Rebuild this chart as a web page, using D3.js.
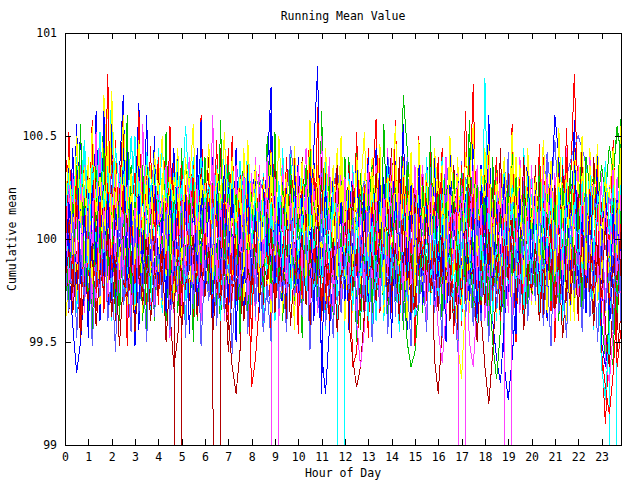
<!DOCTYPE html>
<html>
<head>
<meta charset="utf-8">
<script src="https://cdn.jsdelivr.net/npm/d3@7"></script>
<style>
  body { margin: 0; background: #fff; }
  svg { display: block; }
  text { font-family: "DejaVu Sans Mono", "Liberation Mono", monospace; font-size: 11.5px; fill: #000; }
</style>
</head>
<body>
<div id="chart"></div>
<script>
// one reading every 10 minutes, 144 per day
const stepHours = 1 / 6;
const baseMean = 100;
// cumulative mean per day, in hundredths above baseMean
const day01 = [18,-12,30,8,-22,42,-8,25,-35,15,50,-15,38,-28,12,55,-20,22,-38,8,32,-12,45,-22,
  15,-30,28,-8,40,-18,10,-42,22,36,-15,12,-28,30,-10,48,-20,18,-32,8,26,-40,15,-6,
  -45,22,-15,32,-28,12,44,-18,8,-30,38,-12,20,-35,15,52,-10,30,-22,8,-40,18,35,-15,
  26,-8,-32,44,-18,12,-28,22,58,-12,15,-38,8,30,-20,40,-6,18,-30,50,-15,10,-25,32,
  -12,44,-32,15,-8,26,-42,18,36,-22,12,-15,30,-36,10,20,-28,40,-10,15,-50,22,-12,32,
  8,-28,46,-15,24,-35,12,-18,38,-10,26,80,15,36,-20,8,-32,44,-55,-90,-45,18,-12,30];
const day02 = [-8,15,-28,32,-12,22,-38,45,-18,8,62,30,-15,26,-32,12,-22,36,-8,18,-30,40,-12,22,
  -18,30,-40,8,26,-15,44,-22,12,-32,18,36,-10,26,-20,15,-44,32,-12,22,-28,8,40,-18,
  30,-12,18,-36,50,-8,26,-22,12,-32,38,-15,22,-28,8,44,-18,30,-10,18,-35,26,-12,15,
  -30,40,-20,10,-44,22,32,-15,26,-8,18,-38,12,30,-22,70,44,15,-26,36,-12,20,-32,10,
  26,-18,36,-30,15,-10,32,-22,44,-15,18,-36,12,26,-20,38,-12,15,-30,22,-44,32,-8,18,
  -22,30,-12,40,-26,15,-32,22,8,-18,36,-30,12,44,-15,26,-38,18,-10,32,-50,-62,15,58];
const day03 = [30,-15,-42,-65,-50,-22,15,-30,36,-12,22,-40,58,-18,26,-8,44,-30,12,66,-22,32,-15,50,
  -26,18,-36,12,44,-20,30,-12,22,-44,32,-18,15,-30,40,-10,20,-35,26,-15,44,-22,8,-32,
  18,36,-26,12,-15,50,-30,22,-8,40,-18,30,-36,15,26,-12,44,84,-75,22,-30,15,-18,36,
  -22,12,32,-40,18,-10,26,-30,44,-15,20,-32,12,38,-22,18,-44,30,-12,22,-26,40,-8,15,
  -32,26,-18,44,-12,30,-36,18,-22,52,-15,12,-30,32,-10,20,-40,26,-15,36,-22,15,-8,44,
  -26,18,-36,30,-12,22,-44,32,-18,12,-30,40,-10,20,-32,26,-15,44,-22,15,-36,30,-12,22];
const day04 = [-15,22,-30,12,36,-22,15,-40,26,-8,18,-32,44,-12,22,-26,8,32,-18,40,-10,15,-36,22,
  -12,30,-18,44,-26,8,-32,18,36,-15,26,-40,12,22,-8,32,-22,15,-44,26,-12,36,-18,8,
  -30,40,-15,22,-10,18,-900,18,-22,32,-12,26,-36,15,44,-18,8,-26,38,-12,20,-32,30,-8,
  22,-40,15,-18,32,-26,12,36,-15,22,-30,44,-10,18,-36,26,-12,15,-32,40,-22,8,-18,30,
  -26,15,-44,22,-12,32,-18,8,-50,-62,-30,18,-22,36,-12,26,-32,15,-8,40,-18,22,-36,12,
  30,-15,22,-40,18,-8,32,-26,12,44,-18,22,-30,8,-36,26,-15,32,-12,-58,-44,18,-22,15];
const day05 = [8,-18,26,-36,15,44,-12,22,-30,32,-8,18,-40,26,-15,36,-22,12,50,-18,30,-10,20,-32,
  44,-26,15,-8,32,-18,22,-40,12,30,-15,36,-26,18,-10,26,-36,15,-22,40,-12,22,-30,8,
  32,-15,18,-44,26,-8,36,-22,12,-30,44,-18,15,-36,22,-12,32,-26,8,40,-15,22,-30,-900,
  18,-22,36,-12,26,-32,15,-44,30,-8,22,-18,40,-26,12,32,-15,22,-36,18,-10,30,-22,44,
  -12,18,-32,26,-15,36,-8,22,12,-18,15,-30,78,-12,26,-40,18,-8,36,-22,12,-32,44,-15,
  22,-26,15,-36,32,-12,22,-18,40,-30,8,26,-15,36,-22,18,-44,30,-12,22,-18,-900,15,32];
const day06 = [-22,32,-12,22,-44,15,26,-18,36,-30,12,-8,44,-22,18,-32,26,-12,15,-40,32,-18,22,-8,
  30,-26,12,-36,18,-900,22,-15,32,-12,26,-30,15,40,-22,-900,18,-32,26,-12,36,-18,8,-44,
  22,-15,32,-26,12,44,-18,22,-36,15,-8,30,-22,40,-12,18,-32,26,-15,36,-44,22,-12,30,
  -18,36,-26,15,-8,32,-40,22,-15,26,-30,12,44,-22,18,-36,30,-12,22,-32,15,-18,40,-58,
  -75,-44,18,-26,36,-12,22,-30,15,-40,26,-8,32,-22,12,-18,44,-30,18,-12,26,-36,15,-22,
  32,-15,22,-40,12,30,-22,36,-12,18,-32,26,-8,44,-18,15,-30,22,-12,36,-26,18,-44,8];
const day07 = [-36,12,22,-18,30,-8,40,-26,15,-32,70,22,-12,36,-22,15,-30,26,-10,18,-40,32,-15,22,
  -26,12,-8,36,-18,26,-44,15,-12,30,-22,40,8,-30,18,-36,22,-15,32,-26,12,-18,44,-8,
  26,-32,15,-22,36,-12,18,-30,40,-15,22,-44,30,-8,18,-26,36,-18,12,-32,26,-15,44,-22,
  15,-36,22,-12,32,-26,8,40,-18,22,-30,15,-10,36,-22,26,-40,18,-15,30,-8,22,-32,12,
  36,-18,26,-30,15,-50,-68,-30,22,-15,32,-12,44,-22,18,-36,26,-10,15,-30,40,-18,22,-26,
  12,-32,30,-15,36,-22,18,-8,26,-40,15,32,-22,12,-30,44,-18,22,-12,32,-26,15,-36,55];
const day08 = [15,30,5,22,-10,8,-25,-5,12,28,-8,35,20,-15,10,-30,-12,5,-28,15,8,30,18,42,
  22,-5,15,-20,-35,-10,-28,12,25,-5,30,12,-18,-2,-40,-20,-32,5,20,-8,38,22,30,5,
  -15,-30,-12,-45,-22,-35,5,-10,28,15,45,30,8,25,-5,-22,-8,-35,-15,5,-10,25,35,18,
  10,-15,5,-30,-12,-38,-20,2,-15,22,8,40,25,5,20,-12,-25,-5,-40,-30,-12,-28,10,-5,
  22,8,40,18,30,-5,12,-28,-10,-42,-22,-35,-8,12,-5,28,10,35,20,-8,12,-28,-10,-32,
  5,-15,25,10,42,22,48,15,30,-5,10,-25,-8,-38,-20,-5,-22,15,-2,28,8,-15,5,-28];
const day09 = [44,22,-8,30,-18,12,36,-26,18,-12,32,-36,22,8,-22,40,-15,26,-32,15,-8,36,-18,12,
  -30,22,44,-12,18,-36,26,-15,8,32,-22,40,-10,15,-26,36,-18,22,-40,12,30,-15,18,-32,
  26,-8,36,-22,15,-44,32,-12,22,-26,8,40,-18,15,-30,26,-12,36,-22,18,-36,30,-8,22,
  -32,12,-62,-55,-22,15,-12,32,-26,18,-8,40,-18,22,-36,15,30,-22,12,-32,26,-15,44,-12,
  18,-30,36,-22,12,-40,26,-8,18,-32,30,-15,22,-36,12,40,-18,26,-10,32,-22,15,-44,22,
  -12,36,-26,18,-8,30,-36,22,-15,40,-22,12,-30,32,-18,26,-10,36,-55,-72,-85,-65,-30,15];
const day10 = [-30,-12,18,-22,36,-15,26,-8,44,-32,15,22,-18,30,-40,12,-8,32,-22,18,-12,36,-26,15,
  22,-18,30,-8,-36,18,-26,40,-15,22,-32,12,26,-22,36,-12,15,-30,44,-18,8,-26,32,-10,
  18,-40,26,-15,36,-22,12,-32,22,-8,30,-18,40,-26,15,-12,32,-36,22,-15,26,-30,12,36,
  -22,18,-8,44,-30,15,-18,26,-40,22,-12,32,-22,8,36,-15,-50,-62,-55,-30,15,-18,26,-12,
  30,-22,40,-15,18,-32,12,22,-26,36,-8,18,-30,26,-40,15,-12,32,-22,44,-18,12,-26,22,
  -15,32,-36,18,-12,26,-22,40,-8,15,-32,22,-18,30,-12,36,-26,15,-40,-58,-40,30,55,40];
const day11 = [-18,36,-30,15,52,-22,32,-12,22,-40,62,-15,26,-32,18,-8,36,-26,15,-44,30,-12,22,-18,
  40,-15,26,-36,12,-22,32,-8,18,-30,44,-18,22,-12,36,-26,15,-32,26,-8,40,-22,12,-18,
  30,-36,22,-15,32,74,-26,15,-40,26,-8,36,-18,22,-30,12,40,-22,18,-32,26,-12,36,-15,
  22,-44,30,-18,12,-26,36,-8,22,-32,15,40,-18,26,-12,30,-36,18,-22,44,-15,22,-30,12,
  -18,32,-26,15,-8,40,-22,18,-32,26,-12,36,-18,22,-40,-58,-70,-40,-15,22,-12,30,-22,36,
  -15,26,-8,32,-26,18,60,40,-18,26,-36,15,-12,40,-22,18,-30,32,-50,-62,-44,-15,22,-8];
const day12 = [26,-8,18,-32,36,-15,22,-26,12,44,-18,30,-36,15,-12,32,-22,18,-40,26,-10,36,-18,15,
  -30,22,-12,40,-22,15,-32,26,-8,18,-36,30,-15,22,-26,12,36,-18,44,-30,15,-12,32,-22,
  18,-40,26,-8,36,-15,22,-32,12,30,-22,18,-44,32,-12,22,-26,36,-15,12,-32,26,-18,40,
  -8,22,-30,15,-36,32,-12,22,-18,44,-26,15,-10,32,-40,22,-15,26,-30,12,36,-22,18,-32,
  30,-15,22,-36,12,26,-900,-44,18,-30,36,-12,22,-26,15,-8,32,-40,18,-15,26,-22,36,-18,
  12,-30,22,-8,40,-26,15,-32,22,-12,30,-18,36,-44,18,-22,26,-12,32,-58,-70,-44,15,-26];
const day13 = [-12,30,-22,18,-36,26,-15,44,-8,22,-32,15,72,-18,30,-26,12,-40,22,-15,32,-8,26,-22,
  15,-36,22,-12,32,-18,26,-30,12,40,-22,15,-8,32,-26,18,-40,22,-15,30,-12,36,-22,15,
  -32,26,-18,12,36,-26,15,-8,44,-22,18,-30,26,-12,32,-36,15,-18,22,-44,30,-8,18,-26,
  36,-15,22,-32,12,30,-22,18,-40,26,-12,36,-18,15,-30,22,-8,32,-26,18,-15,40,-22,12,
  -32,22,-18,30,-12,36,-40,15,-22,26,-8,32,-18,22,-30,15,-44,26,-12,36,-22,18,-32,12,
  30,-15,22,-26,40,-18,12,-36,22,-8,32,-26,15,-18,36,-30,22,-12,-62,-78,-44,18,-26,30];
const day14 = [15,-36,26,-12,22,-30,40,-18,12,-26,32,-8,22,-40,18,62,-15,30,-22,12,-32,26,-10,36,
  -22,15,-30,22,-12,40,-26,18,-8,32,-36,22,-15,26,-18,12,44,-30,-40,-62,-75,-55,15,-40,
  26,-12,22,-32,15,-18,36,-26,12,-44,22,-8,32,-18,26,-36,15,-12,40,-22,18,-30,22,-15,
  32,-40,-58,-72,-62,-36,18,-22,30,-12,22,-32,15,-18,40,-26,12,-36,22,-8,30,-22,18,-12,
  36,-30,15,-18,26,-44,22,-12,32,-22,15,-36,-62,-80,-55,-22,18,-30,36,-15,22,-32,12,26,
  -18,36,-22,15,-40,26,-12,32,-18,22,-30,15,-8,40,-26,18,-36,22,-15,30,-12,32,-55,-36];
const day15 = [22,-18,32,-26,15,-8,40,-22,18,-32,26,66,-15,36,-12,22,-30,15,-40,26,-18,12,36,-22,
  15,-32,22,-8,30,-26,18,-15,40,-36,22,-12,32,-18,15,-30,26,-8,36,-22,12,-40,18,-15,
  32,-22,26,-12,15,-36,30,-18,22,-8,40,-26,15,-32,22,-15,36,-12,18,-30,26,-22,12,44,
  -18,22,-36,15,-12,32,-26,18,-8,36,-22,15,-32,26,-18,12,-40,30,-15,22,-26,18,-8,36,
  -22,15,-30,26,-12,40,-18,22,-36,15,-8,32,-26,18,-15,30,-40,22,-12,36,-22,15,-18,26,
  -32,12,22,-15,36,-26,18,-8,30,-22,15,-40,26,-12,32,-18,22,-30,15,-36,26,-8,18,-15];
const day16 = [-26,8,-30,15,18,-22,-5,28,-12,30,-18,10,36,-8,22,-32,12,-40,20,-15,32,-6,18,-28,
  40,-18,12,-30,25,-10,36,-22,8,-35,20,-12,30,-25,15,-40,22,-8,35,-15,28,-20,10,-32,
  18,-38,25,-12,40,-20,10,-30,22,-15,35,-8,28,-25,15,-42,20,-10,32,-22,12,-35,25,-5,
  30,-18,8,-40,22,-15,36,-25,10,-30,28,-12,20,-38,15,-22,40,-8,25,-32,12,-18,35,-28,
  18,-12,28,-35,10,-22,38,-15,25,-30,12,-40,20,-8,32,-25,15,-18,42,-10,22,-35,28,-12,
  10,-30,25,-15,40,-22,8,-38,20,-12,32,-28,15,-45,22,-10,30,-20,12,-35,25,-8,18,-25];
const day17 = [-30,15,-22,36,-12,26,-18,44,-30,18,-8,80,-22,30,-15,22,-40,12,32,-18,26,-36,15,-8,
  40,-22,18,-30,26,-12,36,-18,22,-44,15,-12,32,-22,26,-32,18,-8,44,-26,15,-36,22,-12,
  -72,-58,-30,18,-22,32,-15,26,-36,12,22,-18,40,-30,15,-12,32,-22,18,-40,26,-8,36,-15,
  22,-32,12,-18,30,-26,44,-15,22,-36,18,-8,32,-22,15,-40,26,-12,36,-18,22,-30,12,-15,
  40,-22,18,-32,26,-8,36,-26,15,75,-18,32,-12,22,-36,15,-22,40,-15,26,-32,18,-8,30,
  -26,15,-40,22,-12,32,-18,26,-36,15,-8,44,-22,18,-30,26,-15,36,-12,22,-32,15,-62,-44];
const day18 = [18,-26,12,36,-18,22,-32,15,-8,40,-22,30,-12,18,-36,26,-15,32,-22,12,-40,22,-8,30,
  -18,15,-32,26,-12,36,-22,18,-8,30,-40,22,-15,32,-26,12,-18,36,-8,22,-30,15,-12,40,
  -22,18,-32,26,-15,36,-8,22,-40,15,-18,30,-26,12,32,-22,18,-36,15,-12,26,-30,22,-8,
  40,-18,15,-32,26,-22,12,36,-15,22,-40,18,-8,30,-26,15,-18,32,-12,22,-36,26,-15,18,
  -30,12,36,-22,18,-8,32,-26,15,-40,22,-12,30,-18,-50,-68,-44,15,-22,26,-12,36,-18,22,
  -32,15,-8,40,-26,18,-15,30,-36,22,-12,32,-18,26,-8,36,-22,15,-30,26,-12,18,-36,22];
const day19 = [36,-8,44,-22,18,-32,26,-12,62,-18,30,-36,22,-15,32,70,-26,18,-8,36,-22,15,-40,26,
  -12,32,-18,22,-30,15,-8,40,-26,18,-36,22,-15,30,-12,36,-22,18,-32,26,-8,15,-40,22,
  -15,32,-26,12,36,-18,22,-8,30,-36,15,-22,40,-12,18,-30,26,-15,-55,-75,-44,-18,22,-8,
  32,-26,15,-36,22,-12,40,-18,26,-8,30,-32,15,-22,36,-12,18,-40,26,-15,32,-22,12,-30,
  22,-18,36,-8,26,-32,15,-12,40,-22,18,-36,26,-15,30,-8,22,-62,-78,-58,-30,18,-15,36,
  -22,26,-12,32,-40,15,-18,30,-26,22,-8,36,-15,18,-32,26,-12,22,-36,15,-8,30,-18,26];
const day20 = [-8,26,-32,15,-18,36,-12,22,-30,40,-22,15,-8,32,-26,18,-40,22,-15,30,-12,36,-18,26,
  -32,15,-8,22,-36,30,-18,12,40,-22,15,-32,26,-12,36,-15,22,-40,18,-8,30,-22,15,-26,
  32,-12,22,-18,40,-30,15,-8,36,-26,18,-32,22,-12,30,-15,26,-36,18,-8,40,-22,15,-30,
  22,-18,32,-40,-62,-44,15,-26,36,-12,22,-32,18,-15,30,-22,12,-36,26,-8,32,-18,22,-12,
  15,-30,40,-22,18,-32,26,-8,36,-15,22,-26,12,-40,30,-18,22,12,-900,-15,26,-36,18,-12,
  36,-22,15,-8,30,-26,18,-40,22,-15,32,-12,26,-30,15,-18,36,-22,12,-32,22,-8,30,-18];
const day21 = [30,-18,22,-36,12,26,-15,32,-22,18,-8,40,-30,15,-12,36,-22,18,-32,26,-8,15,-40,22,
  -15,32,-26,12,-18,36,-8,22,-30,15,-12,40,-22,18,-36,26,-15,30,-8,22,-32,12,-18,36,
  -26,15,-8,32,-22,18,-40,26,-12,22,-30,15,-18,36,-8,26,-32,15,-22,40,-12,18,-30,22,
  -15,32,-26,12,-36,22,-18,30,-8,26,-40,15,-12,32,-22,18,-30,36,-15,22,-8,26,-32,15,
  -22,40,-12,18,-36,26,-15,30,-18,22,-8,32,-26,15,-40,22,-12,36,-18,26,-30,15,-8,32,
  -22,18,-36,26,-12,30,-18,22,-40,15,-8,32,-26,18,-15,36,-22,12,-30,22,-18,32,-12,44];
const day22 = [-15,8,-26,18,-36,12,32,-22,15,-12,22,-32,26,-18,36,-8,15,-40,22,-12,30,-22,18,-8,
  32,-26,12,-36,-62,-48,-15,22,-30,18,-8,36,-18,26,-40,15,-22,32,-12,22,-30,15,-18,40,
  -26,12,22,-32,15,-8,30,-22,18,-36,26,-12,32,-18,22,-44,12,-15,30,-26,18,-8,36,-22,
  15,-32,26,-12,22,-40,18,-15,32,-22,12,-30,26,-8,36,-18,15,-36,22,-12,30,-26,18,-15,
  32,-22,12,-40,26,-18,15,-30,36,-8,22,-32,15,-12,26,-22,18,-36,30,-15,22,-8,40,-26,
  15,-18,32,-36,12,-22,26,-15,36,-30,18,-8,22,-32,15,-26,40,-12,18,-44,-62,-30,15,-18];
const day23 = [-44,-18,15,-30,22,-12,32,-22,18,-8,36,-26,72,15,-15,30,-32,22,-12,18,-36,26,-8,15,
  -22,32,-18,12,-30,22,-8,40,-26,15,-18,30,-12,22,-40,18,-15,32,-22,12,-8,26,-30,15,
  -18,36,-26,12,-22,32,-8,18,-36,22,-15,30,-12,26,-32,15,-22,36,-8,18,-30,12,-18,26,
  -40,15,-12,32,-22,18,-8,30,-26,12,-36,22,-15,32,-18,26,-8,36,-30,15,-22,18,-12,32,
  -26,15,-8,36,-18,22,-32,12,-15,30,-22,18,-40,26,-8,32,-18,15,-30,22,-12,36,-22,18,
  -32,26,-15,12,-36,22,-8,30,-18,26,-40,15,-22,32,-12,18,-30,22,-8,36,-26,15,-18,55];
const day24 = [28,22,15,20,10,5,12,-2,-8,0,6,-5,-12,-6,2,8,15,10,4,-4,-10,-16,-8,0,
  8,14,20,12,5,-3,-10,-18,-12,-4,5,12,18,24,16,8,0,-8,-15,-22,-14,-6,2,10,
  18,25,30,22,14,6,-2,-10,-18,-25,-16,-8,0,8,15,22,15,8,0,-8,-16,-24,-30,-20,
  -12,-4,4,12,20,28,20,12,4,-4,-12,-20,-14,-6,2,10,18,26,18,10,2,-6,-14,-22,
  -28,-18,-10,-2,6,14,22,30,22,14,6,-2,-10,-18,-26,-18,-10,-2,6,14,22,15,8,0,
  -8,-15,-22,-15,-8,0,8,15,22,30,38,45,50,44,36,28,20,12,4,-4,-12,-20,-28,-22];
const day25 = [-20,52,-12,22,-46,15,-8,58,-26,18,-36,30,-15,48,-12,26,-52,15,-22,62,-8,36,-18,22,
  -32,12,-15,55,-22,18,-48,26,-12,36,-18,60,-8,32,-40,15,-26,22,-12,50,-18,36,-8,22,
  -50,15,-22,30,-12,56,-32,18,-8,40,-22,15,-46,26,-15,36,-18,64,-40,12,-26,32,-8,18,
  -30,22,-15,52,-12,26,-48,18,-8,40,-22,15,-36,58,-18,30,-12,22,-52,15,-8,32,-26,18,
  -22,36,-15,12,-46,26,-18,62,-8,22,-36,15,-12,48,-26,18,-40,22,-15,56,-8,36,-22,15,
  -30,26,-12,40,-18,22,-50,15,-8,54,-22,26,-40,18,-12,30,-26,15,-36,22,-8,48,-18,26];
const day26 = [8,-30,22,-15,56,-22,12,-48,26,-8,44,-18,15,-36,22,-12,60,-26,18,-8,36,-45,15,-40,
  26,-12,52,-18,22,-36,15,-8,30,-50,18,-12,40,-22,15,-32,58,-18,36,-8,22,-46,12,-40,
  22,-15,36,-26,12,-22,52,-18,26,-8,40,-30,15,-48,36,-12,18,-32,62,-15,30,-40,22,-8,
  36,-18,15,-50,32,-12,22,-36,18,-22,56,-8,26,-30,15,-44,36,-22,12,-32,26,-15,50,-8,
  22,-40,18,-12,32,-26,15,-22,58,-8,26,-30,18,-48,40,-22,12,-36,26,-18,30,-8,22,-32,
  15,-26,36,-12,22,-30,18,-40,26,-8,32,-22,15,-36,40,25,30,15,36,20,45,32,52,44];
const day27 = [-26,18,-8,56,-22,15,-48,26,-12,32,-18,22,-30,15,-8,44,-26,18,-52,22,-12,60,-15,36,
  -22,12,-32,26,-18,40,-8,22,-46,15,-12,58,-26,18,-40,22,-15,36,-8,26,-50,12,-22,32,
  -18,15,-36,26,-8,62,-22,18,-30,12,-15,36,-26,22,-8,32,-40,15,-18,26,-12,36,-22,18,
  -30,26,-8,40,-15,22,-36,12,-26,32,-18,15,-48,22,-8,56,-22,26,-12,30,-32,18,-15,40,
  -22,12,-50,26,-8,32,-18,22,-30,15,-40,26,-12,60,-22,18,-8,30,-26,15,-46,22,-15,40,
  -18,26,-30,12,-22,36,-8,18,-32,26,-15,58,-22,12,-36,22,-18,30,-8,26,-40,15,-22,32];
const day28 = [12,-22,32,-15,26,-36,18,-8,52,-26,15,-30,22,-12,36,-18,26,-40,15,-22,56,-8,18,-32,
  26,-15,36,-48,12,-30,22,-18,40,-8,26,-36,15,-12,60,-26,18,-40,22,-8,36,-15,26,-30,
  12,-22,36,-18,26,-8,30,-40,15,-26,22,-12,36,-18,26,-32,15,-8,50,-22,18,-36,26,-15,
  30,-22,12,-40,18,-26,36,-8,22,-32,15,-18,40,-12,26,-30,18,-22,36,-8,15,-40,26,-15,
  -44,-60,-36,22,-12,32,-26,18,-8,36,-22,15,-40,26,-18,30,-12,22,-36,15,-8,40,-26,18,
  -30,22,-15,36,-12,26,-40,18,-22,32,-8,15,-36,26,-18,40,-12,22,-30,15,-8,36,-22,26];
const day29 = [10,32,18,40,22,48,12,36,20,52,15,30,8,44,25,38,10,50,18,28,5,42,22,35,
  12,45,20,30,8,38,15,55,22,34,10,40,18,26,5,36,14,48,20,30,2,38,12,44,
  -5,22,-12,18,-20,15,-8,28,-15,10,-25,20,-10,12,-30,18,-5,8,-22,15,-12,25,8,-18,
  -20,5,-35,12,-18,-2,-40,8,-25,2,-32,15,-15,-5,-45,10,-22,-8,-38,5,-18,0,-28,6,
  -30,12,-12,-8,-42,5,-25,15,-10,-20,-48,2,-28,10,-15,-5,-36,8,-22,18,-8,-12,-40,5,
  -20,10,-30,15,-5,20,-18,25,-10,30,-2,18,-15,28,5,35,-8,22,10,38,2,26,-5,30];
const day30 = [-22,-5,-36,-12,-48,-18,-30,-2,-42,-15,-25,5,-38,-10,-52,-20,-28,-8,-45,-12,-32,0,-40,-15,
  -26,-5,-50,-18,-34,-8,-44,-22,-15,2,-38,-12,-28,-4,-46,-20,-30,-10,-55,-25,-18,-6,-40,-14,
  -24,8,-30,-12,-20,5,-36,-8,-26,10,-42,-15,-18,2,-32,-5,-22,12,-38,-10,-28,0,-45,-18,
  -12,15,-25,-5,-35,8,-20,-10,-30,5,-15,18,-28,-2,-40,10,-22,-8,-34,6,-18,12,-26,-4,
  -35,2,-20,-12,-42,-5,-28,8,-18,-15,-50,-10,-32,5,-24,-8,-38,0,-20,10,-30,-6,-44,-12,
  -26,-2,-40,-15,-22,5,-34,-10,-48,-20,-30,-8,-36,2,-24,-14,-42,-5,-28,8,-32,-12,-20,0];
const day31 = [15,40,-8,50,8,35,-12,55,12,30,-5,45,5,38,-15,60,10,32,-10,48,2,36,-18,42,
  22,50,-6,30,18,44,-14,38,25,56,-8,28,20,46,-20,34,15,52,-4,40,8,30,-16,48,
  12,36,-22,28,20,42,-8,50,15,32,-12,45,10,38,-18,58,5,30,-10,44,12,36,-20,50,
  8,28,-15,40,22,52,-5,34,18,46,-25,30,25,55,-12,38,2,42,-18,48,8,32,-10,44,
  22,36,-14,50,18,30,-20,42,25,56,-8,34,20,46,-16,28,15,40,-6,52,10,36,-22,44,
  5,30,-12,48,12,38,-18,54,8,32,-10,42,22,50,-15,36,18,46,-20,28,20,44,-8,38];
const day32 = [-10,-35,12,-48,-5,-30,15,-52,-12,-28,8,-40,-15,-55,18,-32,-20,-45,10,-36,-12,-50,5,-38,
  -5,-30,14,-44,-8,-26,20,-48,2,-34,6,-52,-10,-30,16,-42,-5,-36,10,-56,-8,-28,12,-46,
  -2,-30,18,-40,-25,-50,8,-34,-18,-45,15,-28,-15,-38,4,-54,-10,-32,20,-42,-20,-48,10,-36,
  -8,-26,14,-44,2,-30,16,-50,-10,-34,6,-46,-5,-28,18,-40,-20,-52,12,-32,-15,-45,8,-36,
  -18,-48,10,-30,-22,-55,14,-38,-15,-42,20,-28,-12,-50,6,-34,-8,-44,16,-46,-5,-32,10,-40,
  -10,-30,18,-42,-15,-52,8,-36,-20,-48,12,-28,-5,-44,16,-38,-10,-50,4,-34,-15,-46,14,-40];

const days = [day01, day02, day03, day04, day05, day06, day07, day08, day09, day10, day11, day12,
  day13, day14, day15, day16, day17, day18, day19, day20, day21, day22, day23, day24,
  day25, day26, day27, day28, day29, day30, day31, day32];

const lineColors = ["#ff0000", "#00c000", "#0000ff", "#ff40ff", "#00ffff", "#b00000", "#ffff00", "#5a5aff"];
const hourTicks = d3.range(0, 24);
const meanTicks = [99, 99.5, 100, 100.5, 101];

const width = 640, height = 480;
const margin = { top: 33, right: 19, bottom: 35, left: 65 };
const plotW = width - margin.left - margin.right;
const plotH = height - margin.top - margin.bottom;

const svg = d3.select("#chart").append("svg")
  .attr("width", width)
  .attr("height", height);

const x = d3.scaleLinear().domain([0, 143 * stepHours]).range([margin.left, margin.left + plotW]);
const y = d3.scaleLinear().domain([99, 101]).range([margin.top + plotH, margin.top]);

svg.append("defs").append("clipPath").attr("id", "plotclip")
  .append("rect")
  .attr("x", margin.left).attr("y", margin.top)
  .attr("width", plotW).attr("height", plotH);

const line = d3.line()
  .x((d, i) => x(i * stepHours))
  .y(d => y(baseMean + d / 100));

svg.append("g")
  .attr("clip-path", "url(#plotclip)")
  .selectAll("path")
  .data(days)
  .enter()
  .append("path")
  .attr("fill", "none")
  .attr("stroke", (d, i) => lineColors[i % lineColors.length])
  .attr("stroke-width", 1)
  .attr("shape-rendering", "crispEdges")
  .attr("d", line);

// axes, ticks pointing inward, mirrored on top and right
const axisG = svg.append("g").attr("shape-rendering", "crispEdges");

axisG.append("g")
  .attr("transform", `translate(0,${margin.top + plotH})`)
  .call(d3.axisBottom(x).tickValues(hourTicks).tickSize(-6).tickPadding(8).tickFormat(d3.format("d")));
axisG.append("g")
  .attr("transform", `translate(0,${margin.top})`)
  .call(d3.axisTop(x).tickValues(hourTicks).tickSize(-6).tickFormat(""));
axisG.append("g")
  .attr("transform", `translate(${margin.left},0)`)
  .call(d3.axisLeft(y).tickValues(meanTicks).tickSize(-6).tickPadding(8).tickFormat(d => String(d)));
axisG.append("g")
  .attr("transform", `translate(${margin.left + plotW},0)`)
  .call(d3.axisRight(y).tickValues(meanTicks).tickSize(-6).tickFormat(""));

axisG.selectAll(".domain").remove();
axisG.selectAll("line").attr("stroke", "#000");
axisG.selectAll("text").attr("font-family", null).attr("font-size", null);

axisG.append("rect")
  .attr("x", margin.left).attr("y", margin.top)
  .attr("width", plotW).attr("height", plotH)
  .attr("fill", "none")
  .attr("stroke", "#000");

svg.append("text")
  .attr("x", margin.left + plotW / 2)
  .attr("y", 20)
  .attr("text-anchor", "middle")
  .text("Running Mean Value");

svg.append("text")
  .attr("x", margin.left + plotW / 2)
  .attr("y", 477)
  .attr("text-anchor", "middle")
  .text("Hour of Day");

svg.append("text")
  .attr("transform", `translate(16,${margin.top + plotH / 2}) rotate(-90)`)
  .attr("text-anchor", "middle")
  .text("Cumulative mean");
</script>
</body>
</html>
